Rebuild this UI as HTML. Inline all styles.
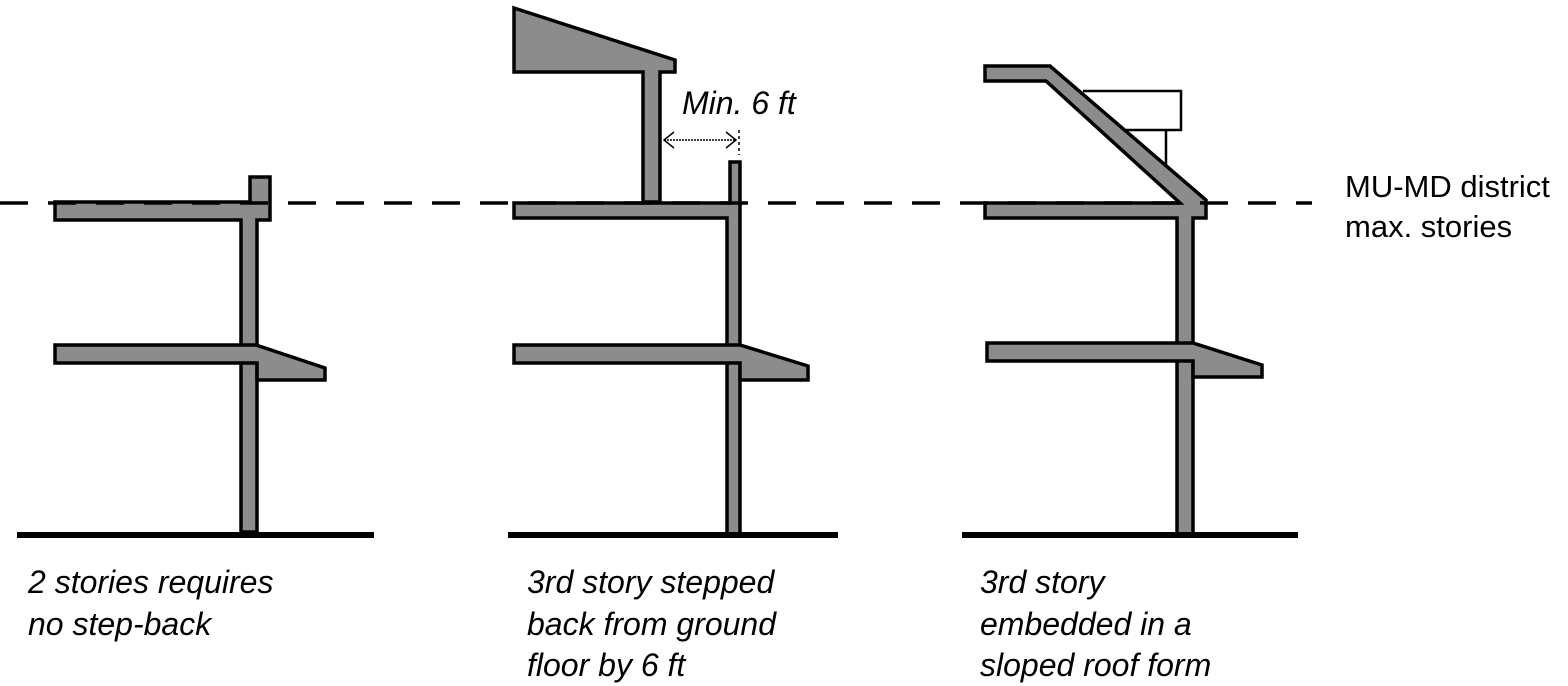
<!DOCTYPE html>
<html><head><meta charset="utf-8"><style>
html,body{margin:0;padding:0;background:#fff;}
svg{display:block}
text{font-family:"Liberation Sans",sans-serif;fill:#000}
.c{font-style:italic;font-size:32px}
</style></head><body>
<svg width="1568" height="686" viewBox="0 0 1568 686" xmlns="http://www.w3.org/2000/svg">
<g fill="#8c8c8c" stroke="#000" stroke-width="3.5" stroke-linejoin="miter">
<!-- panel 1 -->
<polygon points="55,202 250,202 250,177 270,177 270,220 257,220 257,532 241,532 241,220 55,220"/>
<polygon points="55,345 256,345 325,368 325,380 257,380 257,363 55,363"/>
<!-- panel 2 -->
<polygon points="514,8 675,60 675,72 660,72 660,202 643,202 643,72 514,72"/>
<polygon points="514,203 730,203 730,162 740,162 740,534 727,534 727,218 514,218"/>
<polygon points="514,345 728,345 740,345 808,366 808,380 740,380 740,363 514,363"/>
<!-- panel 3 -->
<polygon points="985,66 1050,66 1206,200 1206,218 1193,218 1193,534 1177,534 1177,218 985,218 985,203 1180,203 1046,81 985,81"/>
<polygon points="987,343 1193,343 1262,365 1262,377 1193,377 1193,361 987,361"/>
</g>
<g fill="none" stroke="#000" stroke-width="2.5">
<polyline points="1083,91 1181,91 1181,130 1125,130"/>
<line x1="1166" y1="130" x2="1166" y2="165"/>
</g>
<g fill="#000">
<rect x="17" y="532" width="357" height="6"/>
<rect x="508" y="532" width="330" height="6"/>
<rect x="962" y="532" width="336" height="6"/>
</g>
<line x1="0" y1="203" x2="1312" y2="203" stroke="#000" stroke-width="3.5" stroke-dasharray="28,20"/>
<g stroke="#000" stroke-width="1.5" fill="none">
<line x1="664" y1="140" x2="736" y2="140" stroke-dasharray="2,1"/>
<polyline points="674,132 664,140 674,148"/>
<polyline points="726,132 736,140 726,148"/>
<line x1="739" y1="130" x2="739" y2="155" stroke-dasharray="3,3"/>
</g>
<text class="c" x="682" y="114">Min. 6 ft</text>
<text x="1345" y="197" font-size="31">MU-MD district</text>
<text x="1345" y="237" font-size="31">max. stories</text>
<text class="c" x="28" y="593">2 stories requires</text>
<text class="c" x="28" y="635">no step-back</text>
<text class="c" x="527" y="593">3rd story stepped</text>
<text class="c" x="527" y="635">back from ground</text>
<text class="c" x="527" y="676">floor by 6 ft</text>
<text class="c" x="980" y="593">3rd story</text>
<text class="c" x="980" y="635">embedded in a</text>
<text class="c" x="980" y="676">sloped roof form</text>
</svg>
</body></html>
